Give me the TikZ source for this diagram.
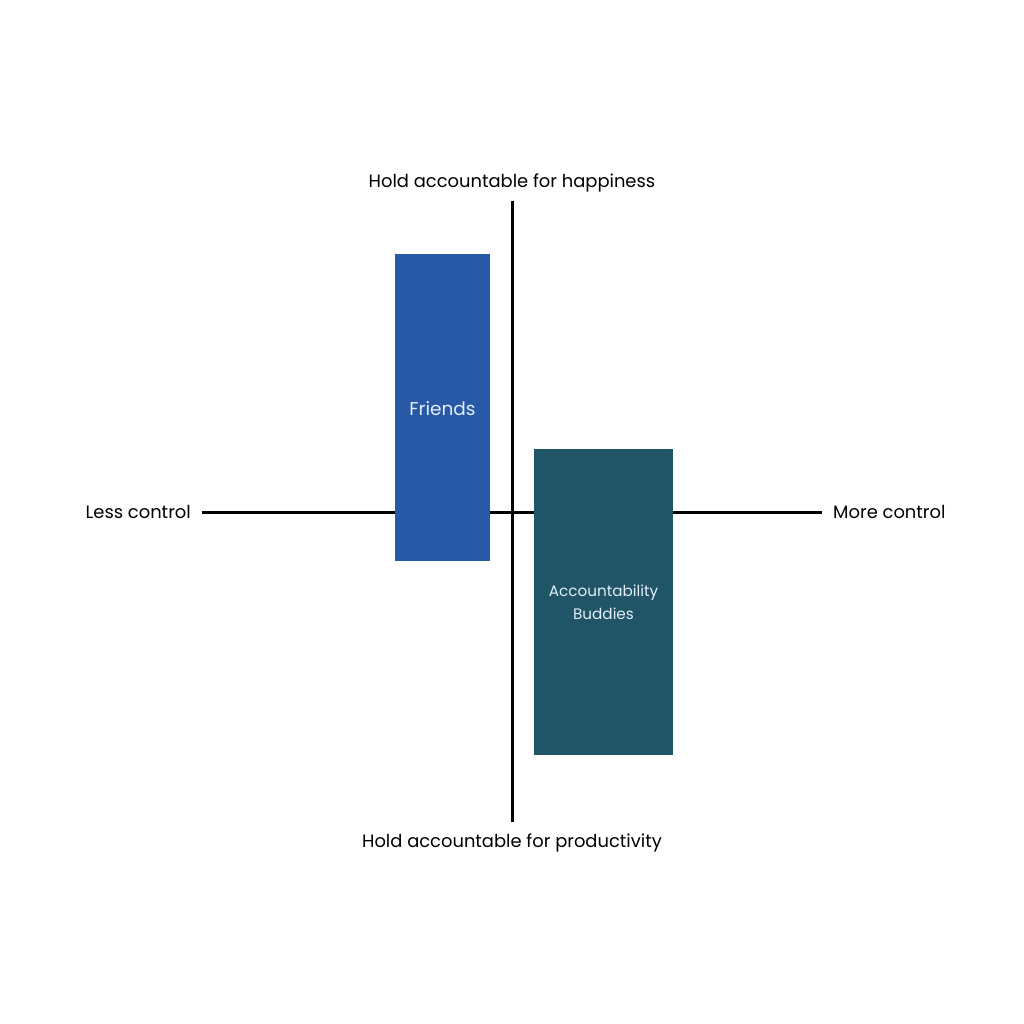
\documentclass[tikz,border=0pt]{standalone}
\usepackage{fontspec}
\setmainfont{Poppins}
\definecolor{friendblue}{HTML}{2759A6}
\definecolor{buddyteal}{HTML}{1F5566}
\definecolor{boxtext}{HTML}{E3EEFA}
\begin{document}
\begin{tikzpicture}[x=1pt,y=-1pt,
  axis/.style={line width=3pt,black},
  lbl/.style={font=\fontsize{17.9}{21}\selectfont,text=black,inner sep=0pt},
  bar/.style={draw=none,inner sep=0pt},
  bartext/.style={font=\fontsize{15.2}{23}\selectfont,text=boxtext,align=center,inner sep=0pt}]
\useasboundingbox[fill=white] (0,0) rectangle (1024,1024);
\coordinate (L) at (202,512);
\coordinate (R) at (822,512);
\coordinate (T) at (512,201);
\coordinate (B) at (512,822);
\draw[axis] (L) -- (R);
\draw[axis] (T) -- (B);
\node[bar,fill=friendblue,minimum width=95pt,minimum height=307pt] (friends) at (442.5,407.5) {};
\node[bar,fill=buddyteal,minimum width=139pt,minimum height=306pt] (buddies) at (603.5,602) {};
\node[bartext,font=\fontsize{18.5}{22}\selectfont] (ft) at (442.5,408.5) {Friends};
\node[bartext] (bt) at (603.5,602.5) {Accountability\\Buddies};
\node[lbl,anchor=east] (less) at (191,512) {Less control};
\node[lbl,anchor=west] (more) at (833,512) {More control};
\node[lbl] (top) at (512,183) {Hold accountable for happiness};
\node[lbl] (bot) at (512,843) {Hold accountable for productivity};
\end{tikzpicture}
\end{document}
